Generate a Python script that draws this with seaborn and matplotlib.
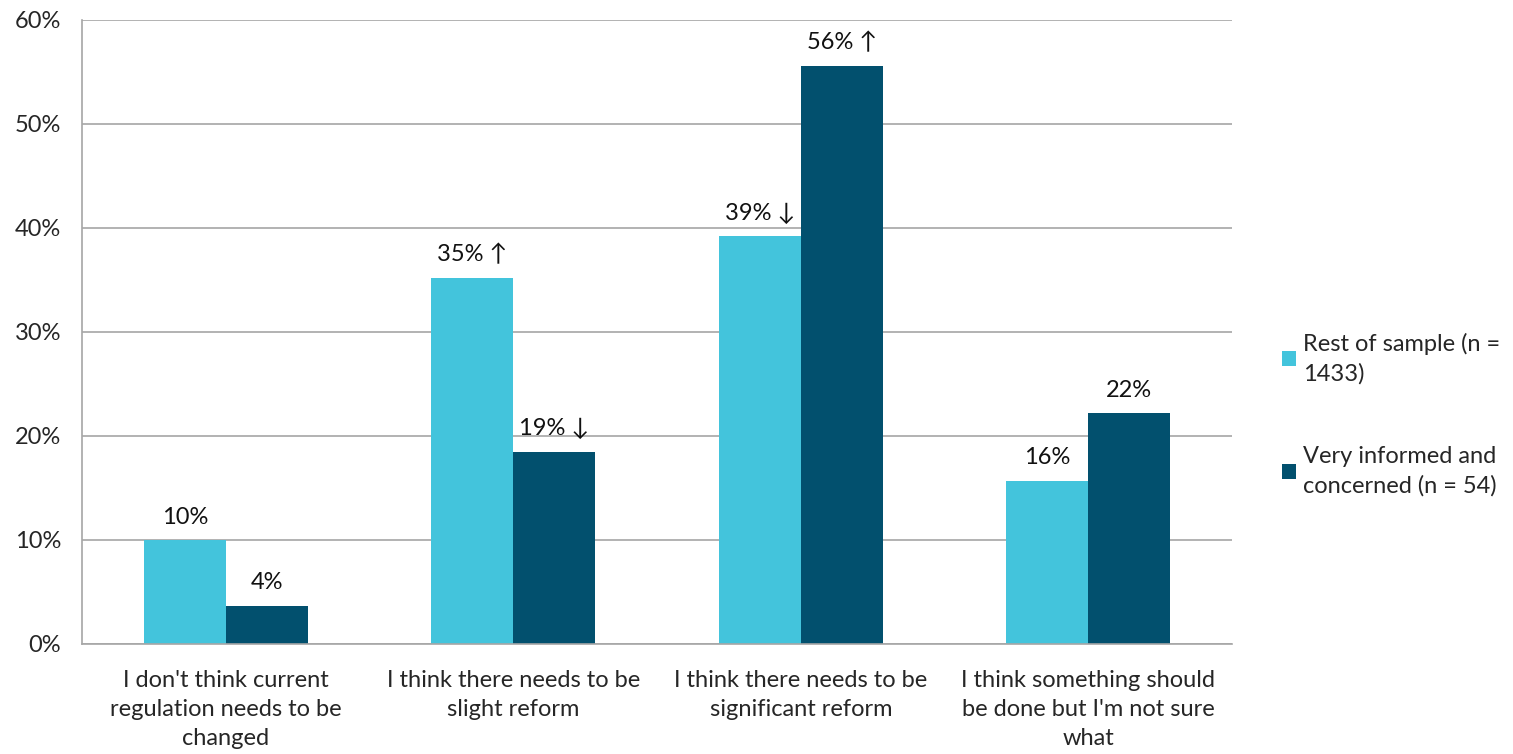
import seaborn as sns
import matplotlib.pyplot as plt
import pandas as pd
from matplotlib.ticker import PercentFormatter

categories = ["I don't think current\nregulation needs to be\nchanged",
              "I think there needs to be\nslight reform",
              "I think there needs to be\nsignificant reform",
              "I think something should\nbe done but I'm not sure\nwhat"]
groups = ['Rest of sample (n =\n1433)', 'Very informed and\nconcerned (n = 54)']
rest = [10.0, 35.2, 39.2, 15.7]
informed = [3.7, 18.5, 55.6, 22.2]
rest_labels = ['10%', '35% ↑', '39% ↓', '16%']
informed_labels = ['4%', '19% ↓', '56% ↑', '22%']
colors = ['#43C4DC', '#02506E']

df = pd.DataFrame({
    'category': categories * 2,
    'group': [groups[0]] * 4 + [groups[1]] * 4,
    'value': rest + informed,
})

FS = 17

sns.set_style('white')
plt.rcParams['font.family'] = ['Lato', 'DejaVu Sans']
plt.rcParams['font.size'] = FS

fig = plt.figure(figsize=(15.13, 7.54), dpi=100)
ax = fig.add_axes([82 / 1513, 1 - 644 / 754, 1150 / 1513, 624 / 754])

sns.barplot(data=df, x='category', y='value', hue='group', palette=colors,
            width=0.57, saturation=1, linewidth=0, ax=ax, legend=True)

for cont, labs in zip(ax.containers, [rest_labels, informed_labels]):
    ax.bar_label(cont, labels=labs, padding=9, fontsize=FS, color='#111111')

ax.set_ylim(0, 60)
ax.set_yticks(range(0, 61, 10))
ax.yaxis.set_major_formatter(PercentFormatter(decimals=0))
ax.set_xlim(-0.5, 3.5)
ax.set_xlabel('')
ax.set_ylabel('')
ax.grid(axis='y', color='#A6A6A6', linewidth=1.2)
ax.set_axisbelow(True)

for s in ['top', 'right']:
    ax.spines[s].set_visible(False)
for s in ['left', 'bottom']:
    ax.spines[s].set_color('#A6A6A6')
    ax.spines[s].set_linewidth(1.2)

# category tick marks sit at the boundaries
ax.set_xticks([-0.5, 0.5, 1.5, 2.5, 3.5], minor=False)
ax.set_xticklabels([])
ax.set_xticks([0, 1, 2, 3], minor=True)
ax.set_xticklabels(categories, minor=True, fontsize=FS, linespacing=1.45)
ax.tick_params(axis='x', which='major', length=8, color='#A6A6A6', width=1.2)
ax.tick_params(axis='x', which='minor', length=0, pad=19)
ax.tick_params(axis='y', length=7, color='#A6A6A6', width=1.2, pad=8, labelsize=FS)

handles, labels = ax.get_legend_handles_labels()
leg = ax.legend(handles, labels, loc='center left', bbox_to_anchor=(1282 / 1513, 0.45),
                bbox_transform=fig.transFigure, frameon=False, fontsize=FS,
                handlelength=0.6, handleheight=0.6, handletextpad=0.3,
                borderpad=0, borderaxespad=0, labelspacing=2.6)
for t in leg.get_texts():
    t.set_linespacing(1.45)

fig.savefig('out.png', dpi=100)
